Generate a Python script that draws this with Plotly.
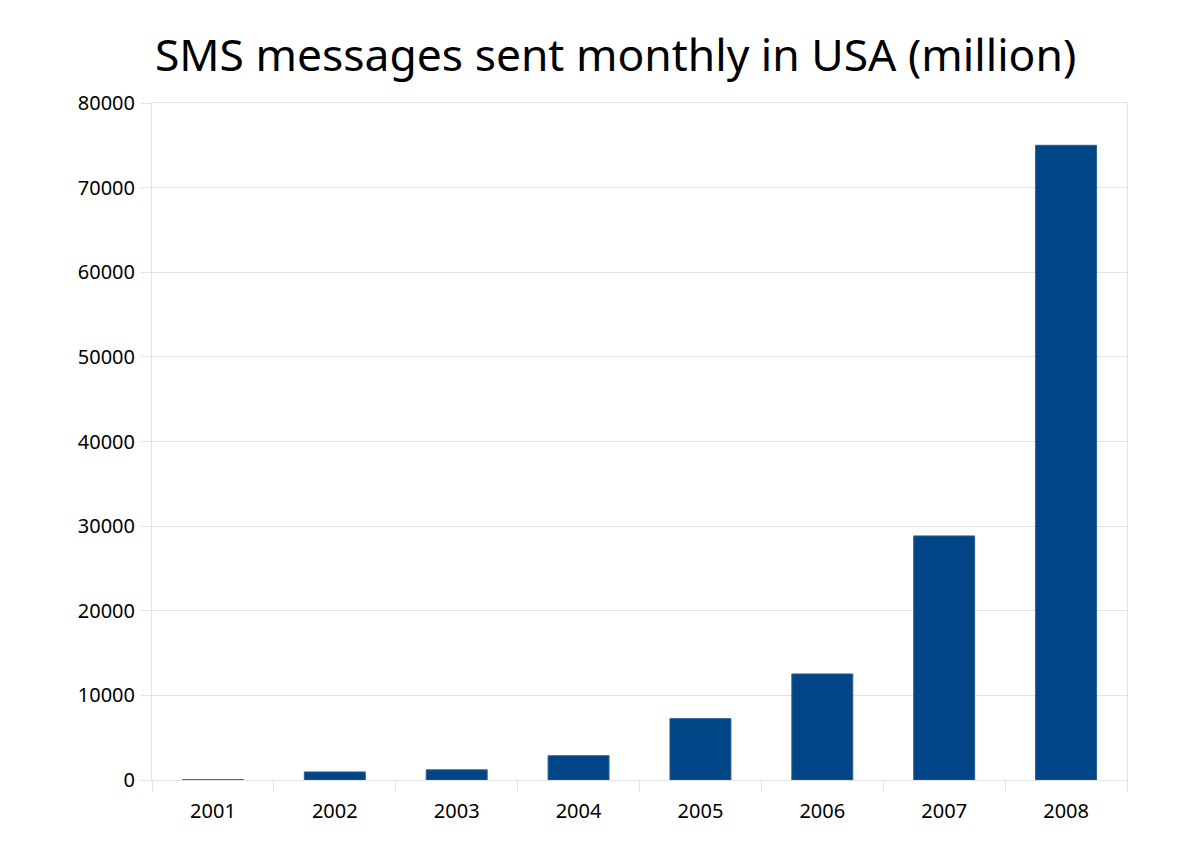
import plotly.graph_objects as go

years = ["2001", "2002", "2003", "2004", "2005", "2006", "2007", "2008"]
sms_million = [40, 950, 1200, 2870, 7250, 12530, 28840, 75000]
y_ticks = [0, 10000, 20000, 30000, 40000, 50000, 60000, 70000, 80000]
y_tick_text = ["0", "10000", "20000", "30000", "40000", "50000", "60000", "70000", "80000"]

fig = go.Figure(go.Bar(
    x=years, y=sms_million, width=0.5,
    marker=dict(color="#004586", line=dict(color="#2a5f93", width=1)),
))

grid = "#e3e3e3"
fig.update_layout(
    width=1200, height=846,
    margin=dict(l=152, r=73, t=103, b=66),
    paper_bgcolor="white", plot_bgcolor="white",
    font=dict(family="Noto Sans", size=20, color="black"),
    showlegend=False,
    title=dict(text="SMS messages sent monthly in USA (million)",
               font=dict(family="Noto Sans", size=44.4, color="black"),
               x=0.513, xanchor="center", y=0.935, yanchor="middle"),
    bargap=0.5,
)
fig.update_xaxes(
    type="category", tickson="boundaries", ticks="outside", ticklen=10,
    tickcolor=grid, showgrid=False, showline=True, linecolor=grid,
    mirror=True, ticklabelstandoff=13,
)
fig.update_yaxes(
    range=[0, 80000], tickvals=y_ticks, ticktext=y_tick_text,
    ticks="outside", ticklen=10,
    tickcolor=grid, gridcolor=grid, showline=True, linecolor=grid,
    mirror=True, zeroline=False, ticklabelstandoff=2,
)
fig.write_html("out.html")
